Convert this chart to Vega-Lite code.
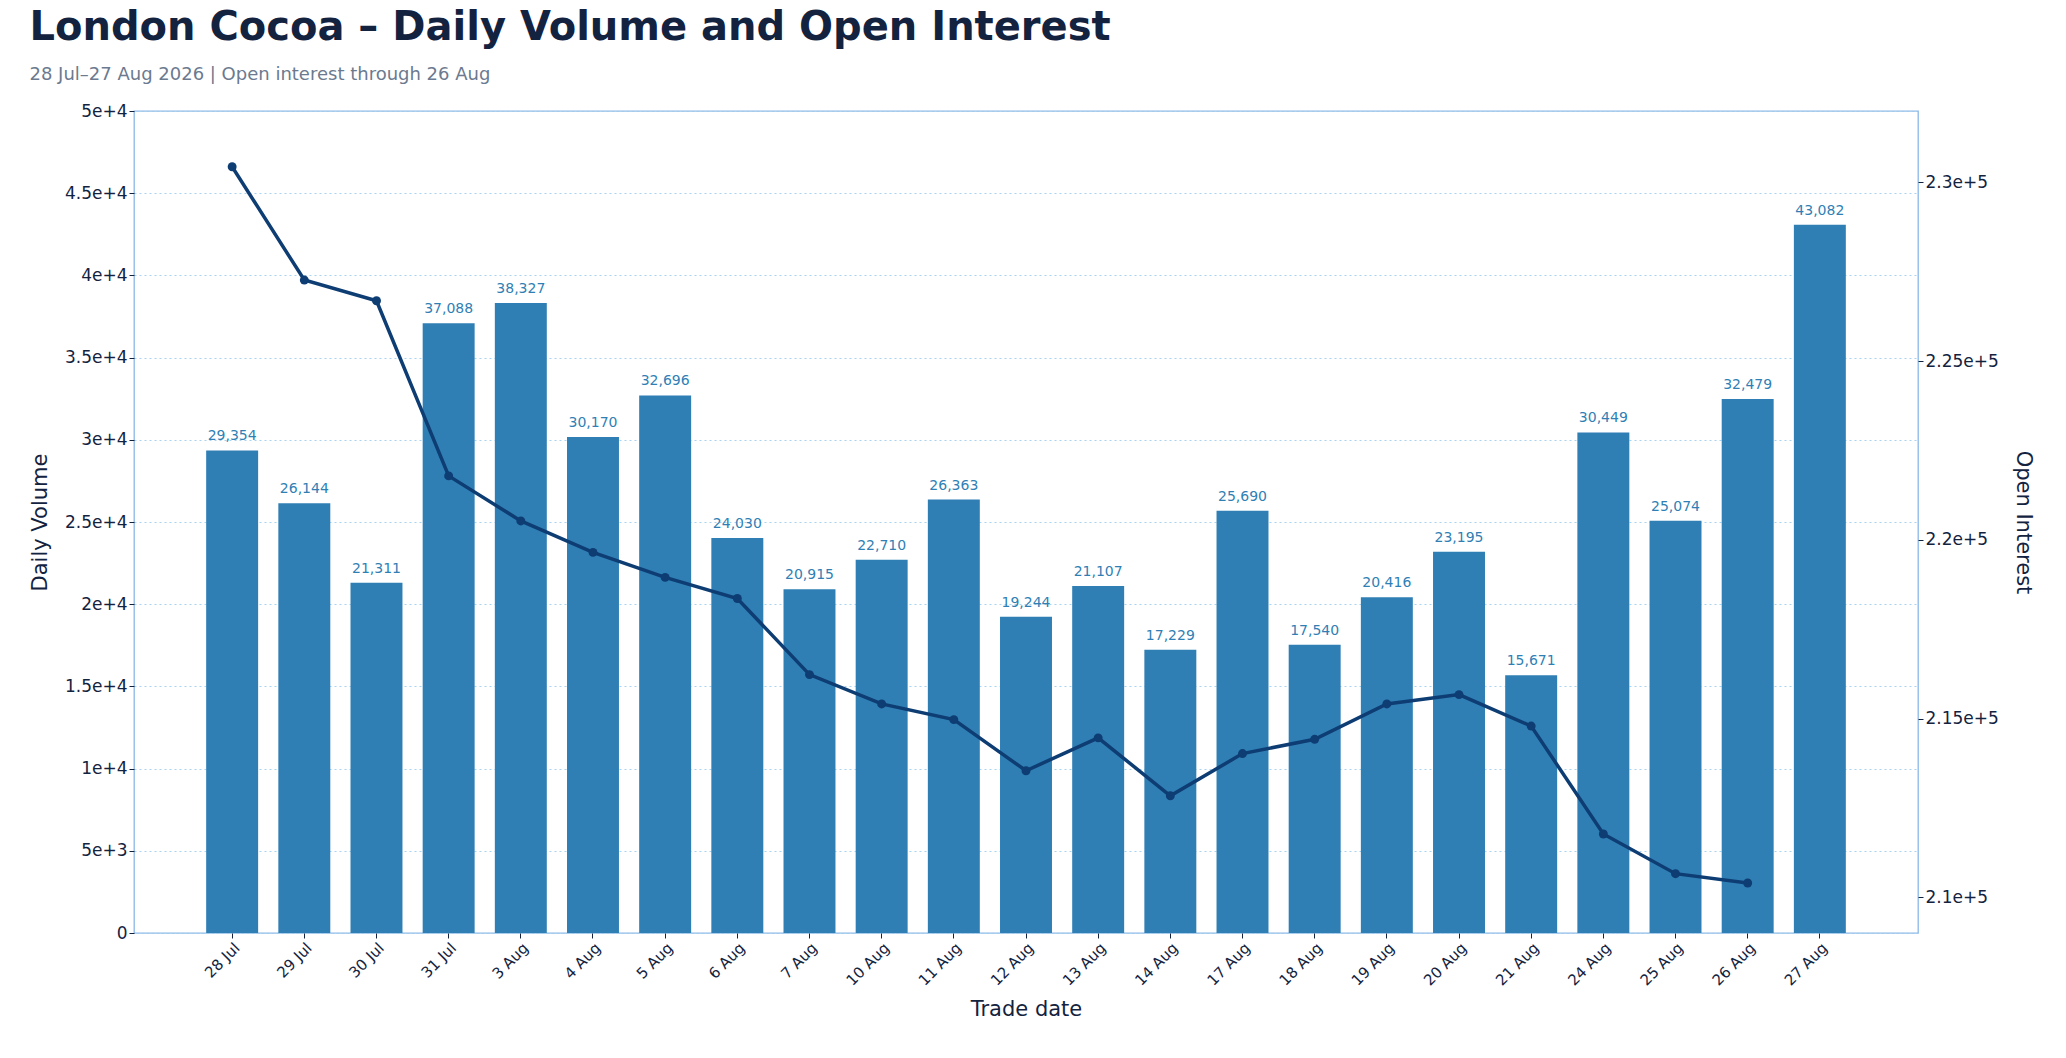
{
  "$schema": "https://vega.github.io/schema/vega-lite/v6.json",
  "autosize": "none",
  "width": 1784,
  "height": 822,
  "padding": {"left": 134, "top": 111, "right": 148, "bottom": 125},
  "background": "white",
  "config": {
    "font": "DejaVu Sans",
    "view": {"stroke": "#8ab8e8", "strokeWidth": 1.3},
    "axis": {"labelFont": "DejaVu Sans", "titleFont": "DejaVu Sans", "labelFontSize": 17, "titleFontSize": 21, "titleFontWeight": "normal", "labelColor": "#13233f", "titleColor": "#13233f", "tickColor": "#13233f", "domain": false}
  },
  "title": {
    "text": "London Cocoa – Daily Volume and Open Interest",
    "subtitle": "28 Jul–27 Aug 2026 | Open interest through 26 Aug",
    "anchor": "start",
    "fontSize": 40,
    "fontWeight": "bold",
    "color": "#13233f",
    "subtitleFontSize": 18,
    "subtitleColor": "#6b7a8f",
    "subtitlePadding": 18,
    "offset": 18
  },
  "data": {
    "values": [
      {"date": "28 Jul", "volume": 29354, "oi": 230440},
      {"date": "29 Jul", "volume": 26144, "oi": 227270},
      {"date": "30 Jul", "volume": 21311, "oi": 226690},
      {"date": "31 Jul", "volume": 37088, "oi": 221790},
      {"date": "3 Aug", "volume": 38327, "oi": 220530},
      {"date": "4 Aug", "volume": 30170, "oi": 219650},
      {"date": "5 Aug", "volume": 32696, "oi": 218950},
      {"date": "6 Aug", "volume": 24030, "oi": 218360},
      {"date": "7 Aug", "volume": 20915, "oi": 216230},
      {"date": "10 Aug", "volume": 22710, "oi": 215410},
      {"date": "11 Aug", "volume": 26363, "oi": 214970},
      {"date": "12 Aug", "volume": 19244, "oi": 213540},
      {"date": "13 Aug", "volume": 21107, "oi": 214460},
      {"date": "14 Aug", "volume": 17229, "oi": 212840},
      {"date": "17 Aug", "volume": 25690, "oi": 214020},
      {"date": "18 Aug", "volume": 17540, "oi": 214420},
      {"date": "19 Aug", "volume": 20416, "oi": 215410},
      {"date": "20 Aug", "volume": 23195, "oi": 215670},
      {"date": "21 Aug", "volume": 15671, "oi": 214790},
      {"date": "24 Aug", "volume": 30449, "oi": 211770},
      {"date": "25 Aug", "volume": 25074, "oi": 210660},
      {"date": "26 Aug", "volume": 32479, "oi": 210400},
      {"date": "27 Aug", "volume": 43082, "oi": null}
    ]
  },
  "encoding": {
    "x": {
      "field": "date", "type": "ordinal", "sort": null,
      "scale": {"paddingInner": 0.28, "paddingOuter": 1.15},
      "axis": {"title": "Trade date", "labelAngle": -45, "labelAlign": "right", "labelBaseline": "top", "labelFontSize": 15, "titlePadding": 10}
    }
  },
  "layer": [
    {
      "layer": [
        {"mark": {"type": "bar", "color": "#2f7fb5"}},
        {
          "mark": {"type": "text", "color": "#2f7fb5", "fontSize": 14, "dy": -14},
          "encoding": {"text": {"field": "volume", "type": "quantitative", "format": ","}}
        }
      ],
      "encoding": {
        "y": {
          "field": "volume", "type": "quantitative",
          "scale": {"domain": [0, 50000], "nice": false},
          "axis": {"title": "Daily Volume", "format": ",", "tickCount": 10, "grid": true, "gridColor": "#a9d3ef", "gridDash": [2, 3], "titlePadding": 14}
        }
      }
    },
    {
      "mark": {"type": "line", "color": "#0d3d73", "strokeWidth": 3.5, "point": {"size": 80, "color": "#0d3d73", "filled": true}},
      "transform": [{"filter": "datum.oi != null"}],
      "encoding": {
        "y": {
          "field": "oi", "type": "quantitative",
          "scale": {"domain": [209000, 232000], "nice": false, "zero": false},
          "axis": {"orient": "right", "title": "Open Interest", "format": ",", "values": [210000, 215000, 220000, 225000, 230000], "grid": false, "titlePadding": 14}
        }
      }
    }
  ],
  "resolve": {"scale": {"y": "independent"}}
}
